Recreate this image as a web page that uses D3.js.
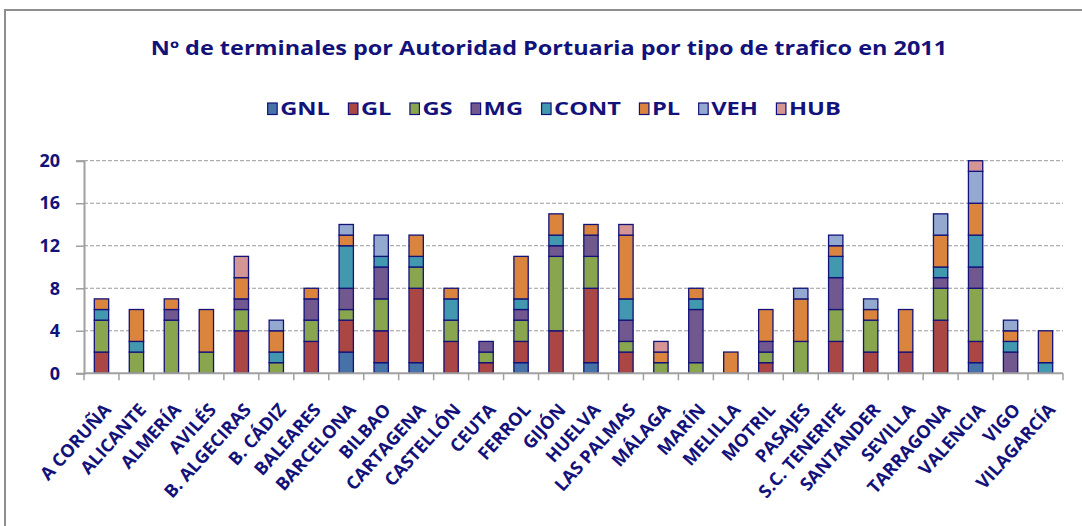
<!DOCTYPE html>
<html>
<head>
<meta charset="utf-8">
<script src="https://cdn.jsdelivr.net/npm/d3@7"></script>
<style>
  body { margin: 0; background: #fff; }
  svg { display: block; }
</style>
</head>
<body>
<svg id="Graph" width="1082" height="526"></svg>
<script>
var ports = ["A CORUÑA", "ALICANTE", "ALMERÍA", "AVILÉS", "B. ALGECIRAS", "B. CÁDIZ", "BALEARES",
	"BARCELONA", "BILBAO", "CARTAGENA", "CASTELLÓN", "CEUTA", "FERROL", "GIJÓN", "HUELVA",
	"LAS PALMAS", "MÁLAGA", "MARÍN", "MELILLA", "MOTRIL", "PASAJES", "S.C. TENERIFE",
	"SANTANDER", "SEVILLA", "TARRAGONA", "VALENCIA", "VIGO", "VILAGARCÍA"];

var series = ["GNL", "GL", "GS", "MG", "CONT", "PL", "VEH", "HUB"];

var GNL  = [0,0,0,0,0,0,0, 2,1,1,0,0,1,0,1, 0,0,0,0,0,0,0, 0,0,0,1,0,0];
var GL   = [2,0,0,0,4,0,3, 3,3,7,3,1,2,4,7, 2,0,0,0,1,0,3, 2,2,5,2,0,0];
var GS   = [3,2,5,2,2,1,2, 1,3,2,2,1,2,7,3, 1,1,1,0,1,3,3, 3,0,3,5,0,0];
var MG   = [0,0,1,0,1,0,2, 2,3,0,0,1,1,1,2, 2,0,5,0,1,0,3, 0,0,1,2,2,0];
var CONT = [1,1,0,0,0,1,0, 4,1,1,2,0,1,1,0, 2,0,1,0,0,0,2, 0,0,1,3,1,1];
var PL   = [1,3,1,4,2,2,1, 1,0,2,1,0,4,2,1, 6,1,1,2,3,4,1, 1,4,3,3,1,3];
var VEH  = [0,0,0,0,0,1,0, 1,2,0,0,0,0,0,0, 0,0,0,0,0,1,1, 1,0,2,3,1,0];
var HUB  = [0,0,0,0,2,0,0, 0,0,0,0,0,0,0,0, 1,1,0,0,0,0,0, 0,0,0,1,0,0];

var yTicks = [0, 4, 8, 12, 16, 20];

var colors = ["#4672A8", "#AA4643", "#89A54E", "#71588F", "#4198AF", "#DB843D", "#93A9CF", "#D49594"];
var navy = "#12127A";
var font = "'Open Sans', sans-serif";

var seriesValues = [GNL, GL, GS, MG, CONT, PL, VEH, HUB];
var data = ports.map(function(p, i) {
	var row = { port: p };
	series.forEach(function(s, j) { row[s] = seriesValues[j][i]; });
	return row;
});

DrawGraph(data);

function DrawGraph(data) {
	var svg = d3.select("#Graph");

	// chart frame
	svg.append("rect")
	   .attr("x", 5).attr("y", 10)
	   .attr("width", 1100).attr("height", 600)
	   .attr("fill", "none")
	   .attr("stroke", "#8e8e8e")
	   .attr("stroke-width", 2);

	// title, widened like the original
	svg.append("text")
	   .attr("transform", "translate(549,55) scale(1.235,1)")
	   .attr("text-anchor", "middle")
	   .attr("font-family", font)
	   .attr("font-weight", "bold")
	   .attr("font-size", "19px")
	   .attr("fill", navy)
	   .text("Nº de terminales por Autoridad Portuaria por tipo de trafico en 2011");

	// legend
	var leg = svg.append("g");
	var lx = 0, sx = 1.28;
	series.forEach(function(s, i) {
		var item = leg.append("g").attr("transform", "translate(" + lx + ",0)");
		item.append("rect")
		    .attr("x", 0.5).attr("y", -12)
		    .attr("width", 9.5).attr("height", 11.5)
		    .attr("fill", colors[i])
		    .attr("stroke", navy)
		    .attr("stroke-width", 1.2);
		var t = item.append("text")
		    .attr("transform", "translate(13,0) scale(" + sx + ",1)")
		    .attr("font-family", font)
		    .attr("font-weight", "bold")
		    .attr("font-size", "18.5px")
		    .attr("fill", navy)
		    .text(s);
		lx += 13 + t.node().getComputedTextLength() * sx + 18;
	});
	lx -= 18;
	leg.attr("transform", "translate(" + (554 - lx / 2) + ",115)");

	var left = 84, right = 1063, top = 160.7, bottom = 373.3;

	var xScale = d3.scaleBand().domain(ports).range([left, right]).paddingInner(0.59).paddingOuter(0.295);
	var yScale = d3.scaleLinear().domain([0, 20]).range([bottom, top]);

	// gridlines
	svg.append("g")
	   .selectAll("line")
	   .data(yTicks.filter(function(d) { return d > 0; }))
	   .enter().append("line")
	   .attr("x1", left).attr("x2", right)
	   .attr("y1", function(d) { return yScale(d); })
	   .attr("y2", function(d) { return yScale(d); })
	   .attr("stroke", "#9a9a9a")
	   .attr("stroke-width", 1)
	   .attr("stroke-dasharray", "4,2");

	var stack = d3.stack().keys(series);
	var layers = stack(data);

	svg.append("g")
	   .selectAll("g")
	   .data(layers)
	   .enter().append("g")
	   .attr("fill", function(d, i) { return colors[i]; })
	   .selectAll("rect")
	   .data(function(d) { return d.filter(function(v) { return v[1] > v[0]; }); })
	   .enter().append("rect")
	   .attr("x", function(d) { return xScale(d.data.port); })
	   .attr("y", function(d) { return yScale(d[1]); })
	   .attr("width", xScale.bandwidth())
	   .attr("height", function(d) { return yScale(d[0]) - yScale(d[1]); })
	   .attr("stroke", navy)
	   .attr("stroke-width", 1.3);

	// y axis
	var yAxis = svg.append("g")
	   .attr("transform", "translate(" + left + ",0)")
	   .call(d3.axisLeft(yScale).tickValues(yTicks).tickSize(8).tickPadding(16));
	yAxis.select(".domain").attr("stroke", "#a0a0a0").attr("stroke-width", 2);
	yAxis.selectAll(".tick line").attr("stroke", "#a0a0a0").attr("stroke-width", 1.5);
	yAxis.selectAll("text")
	   .attr("font-family", font)
	   .attr("font-weight", "bold")
	   .attr("font-size", "18px")
	   .attr("fill", navy);

	// x axis line with ticks between categories
	var xg = svg.append("g");
	xg.append("line")
	  .attr("x1", left).attr("x2", right)
	  .attr("y1", bottom).attr("y2", bottom)
	  .attr("stroke", "#a0a0a0")
	  .attr("stroke-width", 2);
	xg.selectAll(".sep")
	  .data(d3.range(ports.length + 1))
	  .enter().append("line")
	  .attr("x1", function(i) { return left + i * xScale.step(); })
	  .attr("x2", function(i) { return left + i * xScale.step(); })
	  .attr("y1", bottom).attr("y2", bottom + 7)
	  .attr("stroke", "#a0a0a0")
	  .attr("stroke-width", 1.5);

	// category labels, a bit steeper than 45 degrees as in the original
	xg.selectAll(".lbl")
	  .data(ports)
	  .enter().append("text")
	  .attr("transform", function(d) {
		  return "translate(" + (xScale(d) + xScale.bandwidth() / 2 + 6) + "," + (bottom + 33) + ") rotate(-48)";
	  })
	  .attr("text-anchor", "end")
	  .attr("dy", "0.35em")
	  .attr("font-family", font)
	  .attr("font-weight", "bold")
	  .attr("font-size", "18px")
	  .attr("fill", navy)
	  .text(function(d) { return d; });
}
</script>
</body>
</html>
